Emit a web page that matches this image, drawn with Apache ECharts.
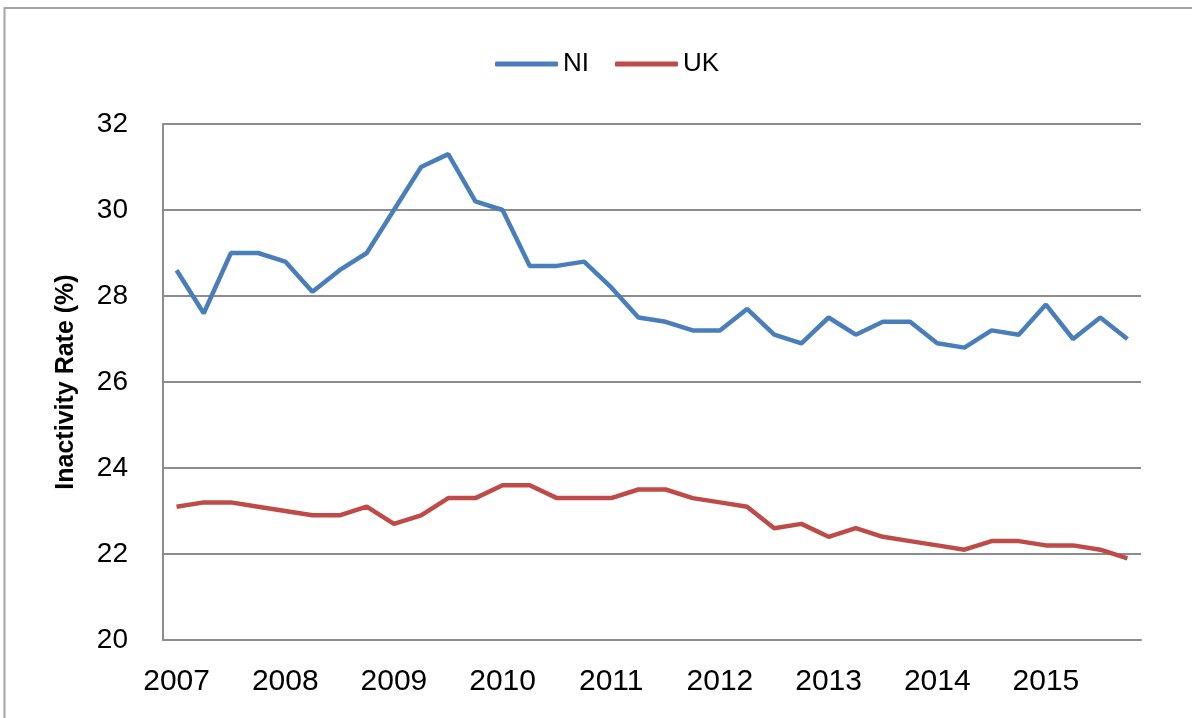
<!DOCTYPE html>
<html>
<head>
<meta charset="utf-8">
<script src="https://cdn.jsdelivr.net/npm/echarts@6/dist/echarts.min.js"></script>
<style>
  html, body { margin: 0; padding: 0; background: #fff; }
  #chart { width: 1192px; height: 718px; }
</style>
</head>
<body>
<div id="chart"></div>
<script>
// quarterly points, 2007 Q1 .. 2015 Q4
const years = ['2007', '2008', '2009', '2010', '2011', '2012', '2013', '2014', '2015'];
const quarters = [];
years.forEach(y => { for (let q = 1; q <= 4; q++) quarters.push(y + ' Q' + q); });

const niRate = [28.6, 27.6, 29.0, 29.0, 28.8, 28.1, 28.6, 29.0,
                30.0, 31.0, 31.3, 30.2, 30.0, 28.7, 28.7, 28.8,
                28.2, 27.5, 27.4, 27.2, 27.2, 27.7, 27.1, 26.9,
                27.5, 27.1, 27.4, 27.4, 26.9, 26.8, 27.2, 27.1,
                27.8, 27.0, 27.5, 27.0];
const ukRate = [23.1, 23.2, 23.2, 23.1, 23.0, 22.9, 22.9, 23.1,
                22.7, 22.9, 23.3, 23.3, 23.6, 23.6, 23.3, 23.3,
                23.3, 23.5, 23.5, 23.3, 23.2, 23.1, 22.6, 22.7,
                22.4, 22.6, 22.4, 22.3, 22.2, 22.1, 22.3, 22.3,
                22.2, 22.2, 22.1, 21.9];

const font = 'Liberation Sans';
const chart = echarts.init(document.getElementById('chart'), null, { renderer: 'canvas' });

const option = {
  backgroundColor: '#fff',
  animation: false,
  graphic: [{
    type: 'rect',
    shape: { x: 4.5, y: 8, width: 1200, height: 720 },
    style: { fill: 'none', stroke: '#a6a6a6', lineWidth: 2 },
    silent: true
  }],
  legend: {
    left: 490,
    top: 46,
    icon: 'roundRect',
    itemWidth: 63,
    itemHeight: 5,
    itemGap: 26,
    textStyle: { fontFamily: font, fontSize: 26, color: '#000' },
    data: ['NI', 'UK']
  },
  grid: { left: 163, right: 51, top: 124, bottom: 78 },
  xAxis: {
    type: 'category',
    data: quarters,
    boundaryGap: true,
    axisLine: { lineStyle: { color: '#8c8c8c', width: 2 } },
    axisTick: { show: false },
    axisLabel: {
      interval: 3,
      margin: 27,
      fontFamily: font,
      fontSize: 30,
      color: '#000',
      formatter: v => v.slice(0, 4)
    }
  },
  yAxis: {
    type: 'value',
    min: 20,
    max: 32,
    interval: 2,
    name: 'Inactivity Rate (%)',
    nameLocation: 'middle',
    nameGap: 84,
    nameTextStyle: { fontFamily: font, fontSize: 25, fontWeight: 'bold', color: '#000' },
    axisLine: { show: true, lineStyle: { color: '#8c8c8c', width: 2 } },
    axisTick: { show: false },
    axisLabel: { margin: 35, fontFamily: font, fontSize: 28, color: '#000' },
    splitLine: { lineStyle: { color: '#8c8c8c', width: 2 } }
  },
  series: [
    {
      name: 'NI',
      type: 'line',
      data: niRate,
      symbol: 'none',
      lineStyle: { color: '#4a7ebb', width: 4.5 },
      itemStyle: { color: '#4a7ebb' }
    },
    {
      name: 'UK',
      type: 'line',
      data: ukRate,
      symbol: 'none',
      lineStyle: { color: '#be4b48', width: 4.5 },
      itemStyle: { color: '#be4b48' }
    }
  ]
};

chart.setOption(option);
</script>
</body>
</html>
